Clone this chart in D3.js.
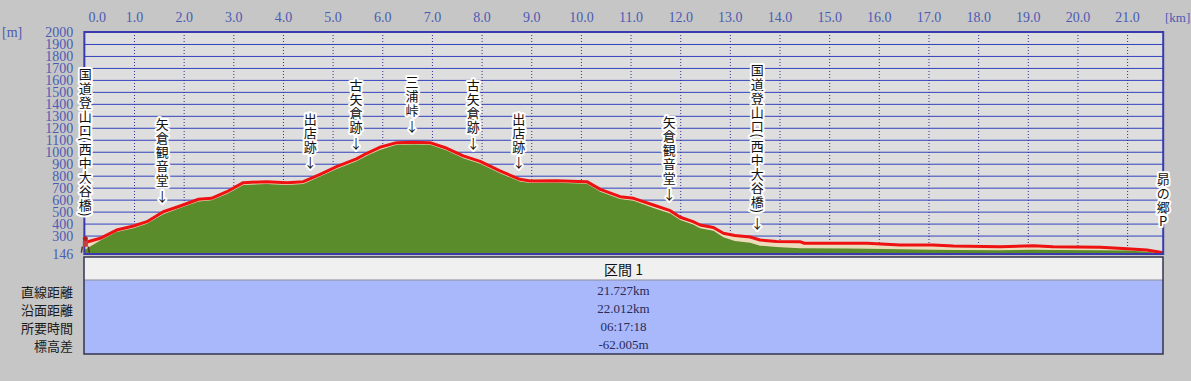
<!DOCTYPE html>
<html>
<head>
<meta charset="utf-8">
<script src="https://cdn.jsdelivr.net/npm/d3@7"></script>
<style>
  body { margin: 0; background: #c6c6c6; }
  svg { display: block; }
</style>
</head>
<body>
<svg id="chart" width="1191" height="381"></svg>
<script>
// GPS track (red) and terrain (green) elevation, sampled by distance
const trackKm = [0, 0.32, 0.65, 0.99, 1.26, 1.59, 1.93, 2.30, 2.56, 2.87, 3.20, 3.67, 4.08, 4.41, 4.75, 5.08, 5.48, 5.69, 5.95, 6.29, 6.63, 6.96, 7.30, 7.63, 7.97, 8.37, 8.77, 8.98, 9.51, 10.12, 10.39, 10.79, 11.06, 11.46, 11.80, 12.00, 12.26, 12.40, 12.67, 12.87, 13.10, 13.41, 13.61, 13.94, 14.41, 14.50, 15.36, 15.76, 16.43, 17.09, 17.50, 18.44, 19.11, 19.51, 20.46, 21.00, 21.40, 21.727];
const trackElev = [240, 277, 346, 380, 416, 499, 547, 603, 611, 666, 742, 750, 742, 750, 812, 875, 940, 987, 1037, 1076, 1079, 1076, 1029, 965, 920, 840, 770, 756, 758, 750, 686, 625, 611, 555, 508, 453, 416, 388, 368, 319, 300, 288, 263, 250, 249, 236, 235, 235, 221, 221, 212, 207, 215, 207, 202, 190, 179, 157];
const terrainElev = [180, 258, 330, 362, 398, 478, 530, 585, 595, 648, 722, 730, 722, 730, 793, 855, 920, 967, 1015, 1058, 1060, 1058, 1010, 945, 900, 820, 752, 738, 740, 732, 665, 605, 590, 530, 485, 430, 392, 362, 340, 285, 255, 240, 215, 205, 195, 193, 192, 190, 185, 182, 180, 178, 182, 180, 178, 175, 165, 150];

const kmTicks = [0, 1, 2, 3, 4, 5, 6, 7, 8, 9, 10, 11, 12, 13, 14, 15, 16, 17, 18, 19, 20, 21];
const elevTicks = [146, 300, 400, 500, 600, 700, 800, 900, 1000, 1100, 1200, 1300, 1400, 1500, 1600, 1700, 1800, 1900, 2000];

const waypointKm = [0, 1.57, 4.55, 5.47, 6.60, 7.83, 8.75, 11.78, 13.55, 21.727];
const waypointName = ['国道登山口(西中大谷橋)', '矢倉観音堂', '出店跡', '古矢倉跡', '三浦峠', '古矢倉跡', '出店跡', '矢倉観音堂', '国道登山口(西中大谷橋)', '昴の郷P'];

const sectionTitle = '区間 1';
const rowLabels = ['直線距離', '沿面距離', '所要時間', '標高差'];
const rowValues = ['21.727km', '22.012km', '06:17:18', '-62.005m'];

const svg = d3.select('#chart');
const pL = 84.35, pR = 1163.2, pT = 32, pB = 254;
const serif = "'Liberation Serif', 'DejaVu Serif', serif";
const cjk = "'Noto Sans CJK JP', 'Noto Sans', sans-serif";
const axisBlue = '#4b5bb3';

const x = d3.scaleLinear().domain([0, 21.727]).range([pL, pR]);
const y = d3.scaleLinear().domain([146, 2000]).range([pB, pT]);

svg.append('rect')
  .attr('x', pL).attr('y', pT)
  .attr('width', pR - pL).attr('height', pB - pT)
  .attr('fill', '#dedede');

// horizontal grid
const gridY = svg.append('g')
  .attr('transform', `translate(${pL},0)`)
  .call(d3.axisLeft(y).tickValues(elevTicks.slice(1)).tickSize(-(pR - pL)).tickFormat(''));
gridY.select('.domain').remove();
gridY.selectAll('line').attr('stroke', '#3243bd');

// vertical dotted grid
const gridX = svg.append('g')
  .attr('transform', `translate(0,${pT})`)
  .call(d3.axisTop(x).tickValues(kmTicks.slice(1)).tickSize(-(pB - pT)).tickFormat(''));
gridX.select('.domain').remove();
gridX.selectAll('line').attr('stroke', '#30309a').attr('stroke-dasharray', '1,2');

const trackPts = trackKm.map((k, i) => [k, trackElev[i]]);
const terrainPts = trackKm.map((k, i) => [k, terrainElev[i]]);

const area = d3.area().x(d => x(d[0])).y0(pB).y1(d => y(d[1]));
svg.append('path').datum(trackPts).attr('d', area).attr('fill', '#ecdcbc');
svg.append('path').datum(terrainPts).attr('d', area).attr('fill', '#5b8c2b');

svg.append('path').datum(trackPts)
  .attr('d', d3.line().x(d => x(d[0])).y(d => y(d[1])))
  .attr('fill', 'none')
  .attr('stroke', '#ee1111')
  .attr('stroke-width', 3)
  .attr('stroke-linejoin', 'round');

// plot frame
svg.append('rect')
  .attr('x', pL).attr('y', pT)
  .attr('width', pR - pL).attr('height', pB - pT)
  .attr('fill', 'none')
  .attr('stroke', '#3a3aae')
  .attr('stroke-width', 2);

// start marker (hiker icon)
const start = svg.append('g').attr('transform', `translate(${x(0) + 1},${y(trackElev[0])})`);
start.append('circle').attr('cx', 0).attr('cy', -4).attr('r', 2.5).attr('fill', '#b02020');
start.append('rect').attr('x', -2.5).attr('y', -2).attr('width', 5).attr('height', 6).attr('fill', '#c04040');
start.append('path').attr('d', 'M-3,4 L-4,10 M3,4 L4,10').attr('stroke', '#553333').attr('stroke-width', 1.5);

// y labels
const yAxis = svg.append('g')
  .attr('transform', `translate(${pL},0)`)
  .call(d3.axisLeft(y).tickValues(elevTicks).tickSize(0).tickPadding(11).tickFormat(d3.format('d')));
yAxis.select('.domain').remove();
yAxis.selectAll('text')
  .attr('font-family', serif).attr('font-size', 14).attr('fill', axisBlue);

// x labels
const xAxis = svg.append('g')
  .attr('transform', 'translate(0,22)')
  .call(d3.axisTop(x).tickValues(kmTicks).tickSize(0).tickPadding(0).tickFormat(d3.format('.1f')));
xAxis.select('.domain').remove();
xAxis.selectAll('text')
  .attr('font-family', serif).attr('font-size', 14).attr('fill', axisBlue)
  .attr('dx', d => d === 0 ? 12.5 : 0);

svg.append('text').text('[m]')
  .attr('x', 2).attr('y', 37)
  .attr('font-family', serif).attr('font-size', 14).attr('fill', axisBlue);
svg.append('text').text('[km]')
  .attr('x', 1165).attr('y', 22)
  .attr('font-family', serif).attr('font-size', 13).attr('fill', axisBlue);

// waypoint labels (vertical text with arrow)
const trackAt = km => {
  const i = Math.min(Math.max(d3.bisectLeft(trackKm, km), 1), trackKm.length - 1);
  const t = (km - trackKm[i - 1]) / (trackKm[i] - trackKm[i - 1]);
  return trackElev[i - 1] + t * (trackElev[i] - trackElev[i - 1]);
};
const isParen = c => c === '(' || c === ')';

waypointName.forEach((name, w) => {
  const km = waypointKm[w];
  const hasArrow = km > 0.2 && km < 21.5;
  const cx = Math.min(Math.max(x(km), pL + 1), pR + 2);
  const chars = Array.from(name).map(c => ({ c, h: isParen(c) ? 5.5 : 14 }));
  chars.push({ c: '↓', h: 17, arrow: true });
  const total = d3.sum(chars, d => d.h);
  let pos = y(trackAt(km)) - 17 + 8.5 - total;
  chars.forEach(d => { d.cy = pos + d.h / 2; pos += d.h; });
  const shown = hasArrow ? chars : chars.filter(d => !d.arrow);
  const g = svg.append('g');
  g.selectAll('text').data(shown).join('text')
    .attr('x', cx).attr('y', d => d.cy)
    .attr('transform', d => isParen(d.c) ? `rotate(90,${cx},${d.cy})` : null)
    .attr('text-anchor', 'middle')
    .attr('dominant-baseline', 'central')
    .attr('font-family', cjk).attr('font-size', 13)
    .attr('fill', '#111')
    .attr('stroke', '#ffffff').attr('stroke-width', 4)
    .attr('stroke-linejoin', 'round')
    .attr('paint-order', 'stroke')
    .text(d => d.c);
});

// summary table
const tLeft = 84, tRight = 1163, tTop = 257, tHead = 280, tBottom = 354;
svg.append('rect').attr('x', tLeft).attr('y', tTop).attr('width', tRight - tLeft).attr('height', tHead - tTop).attr('fill', '#f0f0f0');
svg.append('rect').attr('x', tLeft).attr('y', tHead).attr('width', tRight - tLeft).attr('height', tBottom - tHead).attr('fill', '#a8b8fa');
svg.append('line').attr('x1', tLeft).attr('x2', tRight).attr('y1', tHead).attr('y2', tHead).attr('stroke', '#8a8aa0');
svg.append('rect').attr('x', tLeft).attr('y', tTop).attr('width', tRight - tLeft).attr('height', tBottom - tTop)
  .attr('fill', 'none').attr('stroke', '#34344e').attr('stroke-width', 1.5);

svg.append('text').text(sectionTitle)
  .attr('x', (tLeft + tRight) / 2).attr('y', 269)
  .attr('text-anchor', 'middle').attr('dominant-baseline', 'central')
  .attr('font-family', cjk).attr('font-size', 14).attr('fill', '#111');

const rowY = d3.scalePoint().domain(rowLabels).range([291, 345]);
svg.append('g').selectAll('text').data(rowLabels).join('text')
  .attr('x', 73).attr('y', d => rowY(d))
  .attr('text-anchor', 'end').attr('dominant-baseline', 'central')
  .attr('font-family', cjk).attr('font-size', 13).attr('fill', '#1a1a1a')
  .text(d => d);
svg.append('g').selectAll('text').data(rowValues).join('text')
  .attr('x', (tLeft + tRight) / 2).attr('y', (d, i) => rowY(rowLabels[i]) - 0.5)
  .attr('text-anchor', 'middle').attr('dominant-baseline', 'central')
  .attr('font-family', serif).attr('font-size', 13).attr('fill', '#2a2a5a')
  .text(d => d);
</script>
</body>
</html>
